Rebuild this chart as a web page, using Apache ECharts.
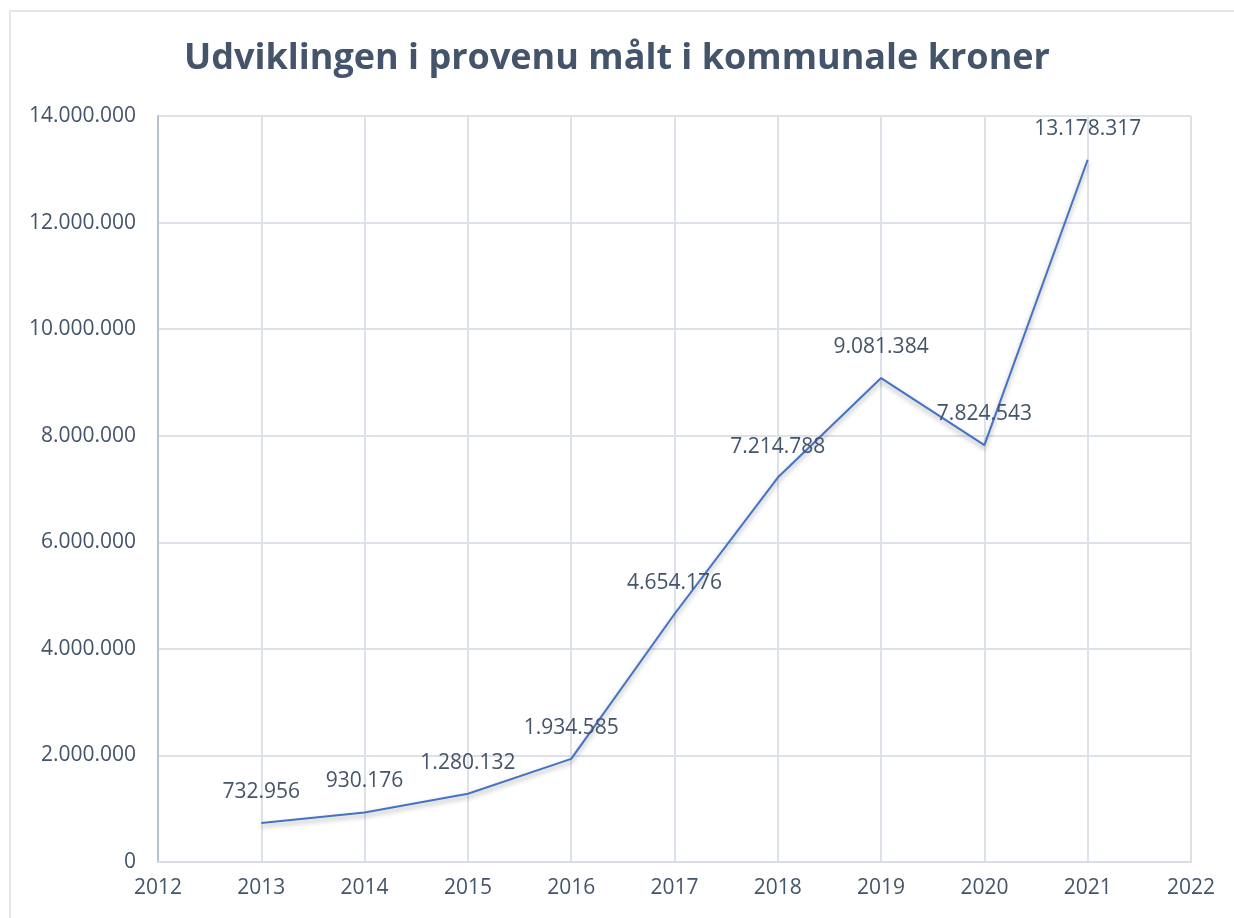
<html>
<head>
    <meta charset="utf-8">
    <script src="https://cdn.jsdelivr.net/npm/echarts@6/dist/echarts.min.js"></script>
    <style>
        body { margin: 0; background: #fff; }
        #frame { position: absolute; left: 9px; top: 10px; width: 1240px; height: 920px; border: 2px solid #E3E6EB; box-sizing: border-box; }
        #chart { position: absolute; left: 0; top: 0; width: 1234px; height: 918px; }
    </style>
</head>
<body>
    <div id="frame"></div>
    <div id="chart"></div>
    <script>
        var years = [2013, 2014, 2015, 2016, 2017, 2018, 2019, 2020, 2021];
        var provenu = [732956, 930176, 1280132, 1934585, 4654176, 7214788, 9081384, 7824543, 13178317];

        function dots(v) {
            return String(Math.round(v)).replace(/\B(?=(\d{3})+(?!\d))/g, '.');
        }

        var textColor = '#44546A';
        var font = '"Open Sans", "Noto Sans", sans-serif';
        var points = years.map(function (y, i) { return [y, provenu[i]]; });

        var option = {
            animation: false,
            title: {
                text: 'Udviklingen i provenu målt i kommunale kroner',
                left: 'center',
                top: 36,
                textStyle: { fontFamily: font, fontSize: 36, fontWeight: 'bold', color: textColor }
            },
            grid: { left: 158, right: 43, top: 116, bottom: 56 },
            xAxis: {
                type: 'value',
                min: 2012,
                max: 2022,
                interval: 1,
                axisLine: { show: true, lineStyle: { color: '#D9DEE6', width: 2 } },
                axisTick: { show: false },
                splitLine: { show: true, lineStyle: { color: '#DDE2EA', width: 2 } },
                axisLabel: { color: textColor, fontFamily: font, fontSize: 21, margin: 16, formatter: function (v) { return String(v); } }
            },
            yAxis: {
                type: 'value',
                min: 0,
                max: 14000000,
                interval: 2000000,
                axisLine: { show: true, lineStyle: { color: '#B7C1D1', width: 2 } },
                axisTick: { show: false },
                splitLine: { show: true, lineStyle: { color: '#DDE2EA', width: 2 } },
                axisLabel: { color: textColor, fontFamily: font, fontSize: 21, margin: 22, formatter: dots }
            },
            series: [{
                type: 'line',
                data: points,
                symbol: 'none',
                lineStyle: {
                    color: '#4472C4',
                    width: 2,
                    shadowColor: 'rgba(0,0,0,0.35)',
                    shadowBlur: 5,
                    shadowOffsetY: 3
                },
                z: 2
            }, {
                type: 'scatter',
                data: points,
                symbolSize: 1,
                itemStyle: { color: 'rgba(0,0,0,0)', opacity: 1 },
                label: {
                    show: true,
                    position: 'top',
                    distance: 20,
                    color: textColor,
                    fontFamily: font,
                    fontSize: 21,
                    formatter: function (p) { return dots(p.value[1]); }
                },
                z: 3
            }]
        };

        var myChart = echarts.init(document.getElementById('chart'));
        myChart.setOption(option);
    </script>
</body>
</html>
